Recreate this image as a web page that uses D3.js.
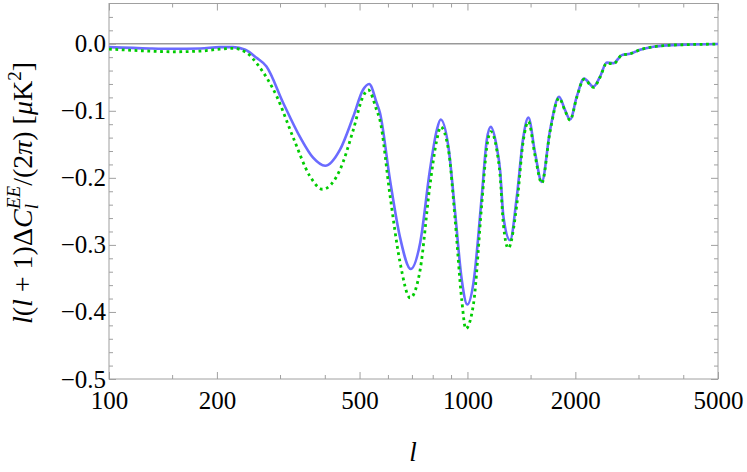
<!DOCTYPE html>
<html>
<head>
<meta charset="utf-8">
<script src="https://cdn.jsdelivr.net/npm/d3@7"></script>
<style>
  body { margin: 0; background: #fff; }
  text { font-family: "Liberation Serif", "DejaVu Serif", serif; }
</style>
</head>
<body>
<div id="graphic"></div>
<script>
// multipole values and Delta C_l^EE curves
const ellBlue = [100, 130, 150, 180, 204, 222, 240, 258, 275, 306, 341, 371, 401, 441, 480, 511, 532, 558, 570, 608, 648, 695, 738, 786, 821, 842, 885, 924, 964, 999, 1039, 1096, 1132, 1161, 1207, 1233, 1260, 1315, 1373, 1432, 1479, 1544, 1612, 1700, 1801, 1872, 1934, 2018, 2115, 2246, 2344, 2447, 2553, 2696, 2843, 3031, 3302, 3598, 3995, 5000];
const valBlue = [-0.005, -0.007, -0.0075, -0.007, -0.005, -0.005, -0.009, -0.021, -0.034, -0.088, -0.139, -0.170, -0.182, -0.158, -0.109, -0.069, -0.060, -0.088, -0.103, -0.203, -0.288, -0.336, -0.297, -0.188, -0.129, -0.113, -0.154, -0.252, -0.352, -0.389, -0.357, -0.228, -0.144, -0.124, -0.154, -0.188, -0.258, -0.293, -0.228, -0.139, -0.110, -0.163, -0.206, -0.129, -0.079, -0.099, -0.113, -0.079, -0.052, -0.064, -0.049, -0.028, -0.029, -0.017, -0.015, -0.009, -0.0045, -0.0024, -0.0015, -0.0005];

const ellGreen = [100, 130, 150, 180, 204, 222, 243, 258, 294, 326, 364, 394, 441, 480, 511, 529, 558, 570, 608, 648, 692, 738, 786, 821, 842, 885, 924, 964, 989, 1039, 1096, 1132, 1161, 1207, 1233, 1260, 1300, 1373, 1432, 1479, 1544, 1612, 1700, 1801, 1872, 1934, 2018, 2115, 2246, 2344, 2447, 2553, 2696, 2843, 3031, 3302, 3598, 3995, 5000];
const valGreen = [-0.008, -0.011, -0.012, -0.011, -0.008, -0.007, -0.014, -0.029, -0.079, -0.139, -0.198, -0.217, -0.188, -0.129, -0.079, -0.069, -0.099, -0.114, -0.226, -0.325, -0.379, -0.337, -0.211, -0.144, -0.124, -0.158, -0.263, -0.382, -0.425, -0.389, -0.240, -0.155, -0.131, -0.158, -0.196, -0.270, -0.305, -0.240, -0.144, -0.116, -0.167, -0.208, -0.131, -0.081, -0.100, -0.114, -0.080, -0.053, -0.065, -0.050, -0.029, -0.030, -0.017, -0.015, -0.009, -0.0045, -0.0024, -0.0015, -0.0005];

const xMajor = [100, 200, 500, 1000, 2000, 5000];
const xMinor = [150, 300, 400, 600, 700, 800, 900, 1500, 3000, 4000];
const yMajor = [0.0, -0.1, -0.2, -0.3, -0.4, -0.5];
const yMinor = [0.04, 0.02, -0.02, -0.04, -0.06, -0.08, -0.12, -0.14, -0.16, -0.18, -0.22, -0.24, -0.26, -0.28, -0.32, -0.34, -0.36, -0.38, -0.42, -0.44, -0.46, -0.48];

const width = 747, height = 472;
const margin = {left: 109, right: 29, top: 3.5, bottom: 93};
const plotWidth = width - margin.left - margin.right;
const plotHeight = height - margin.top - margin.bottom;
const frameColor = "#a0a0a0";

const svg = d3.select("#graphic")
              .append("svg")
              .attr("width", width)
              .attr("height", height);
const plotSvg = svg.append("g")
                   .attr("transform", "translate(" + margin.left + "," + margin.top + ")");

const x = d3.scaleLog().domain([100, 5000]).range([0, plotWidth]);
const y = d3.scaleLinear().domain([-0.5, 0.06]).range([plotHeight, 0]);

// frame
plotSvg.append("rect")
       .attr("width", plotWidth)
       .attr("height", plotHeight)
       .attr("fill", "none")
       .attr("stroke", frameColor)
       .attr("stroke-width", 1);

function styleAxis(g) {
    g.select(".domain").remove();
    g.selectAll(".tick line").attr("stroke", frameColor);
    g.selectAll(".tick text").attr("fill", "#000").attr("font-size", 25)
     .attr("font-family", "'Liberation Serif', serif");
}

const fmtY = d => (d < 0 ? "\u2212" : "") + Math.abs(d).toFixed(1);

// bottom + top ticks
plotSvg.append("g").attr("transform", "translate(0," + plotHeight + ")")
       .call(d3.axisBottom(x).tickValues(xMinor).tickSize(-4).tickFormat("")).call(styleAxis);
plotSvg.append("g").attr("transform", "translate(0," + plotHeight + ")")
       .call(d3.axisBottom(x).tickValues(xMajor).tickSize(-7).tickPadding(12).tickFormat(d3.format("d"))).call(styleAxis);
plotSvg.append("g")
       .call(d3.axisTop(x).tickValues(xMinor).tickSize(-4).tickFormat("")).call(styleAxis);
plotSvg.append("g")
       .call(d3.axisTop(x).tickValues(xMajor).tickSize(-7).tickFormat("")).call(styleAxis);

// left + right ticks
plotSvg.append("g")
       .call(d3.axisLeft(y).tickValues(yMinor).tickSize(-4).tickFormat("")).call(styleAxis);
plotSvg.append("g")
       .call(d3.axisLeft(y).tickValues(yMajor).tickSize(-7).tickPadding(3).tickFormat(fmtY)).call(styleAxis);
plotSvg.append("g").attr("transform", "translate(" + plotWidth + ",0)")
       .call(d3.axisRight(y).tickValues(yMinor).tickSize(-4).tickFormat("")).call(styleAxis);
plotSvg.append("g").attr("transform", "translate(" + plotWidth + ",0)")
       .call(d3.axisRight(y).tickValues(yMajor).tickSize(-7).tickFormat("")).call(styleAxis);

// zero line
plotSvg.append("line")
       .attr("x1", 0).attr("x2", plotWidth)
       .attr("y1", y(0)).attr("y2", y(0))
       .attr("stroke", "#999")
       .attr("stroke-width", 1.6);

const line = d3.line()
               .curve(d3.curveMonotoneX)
               .x(d => x(d[0]))
               .y(d => y(d[1]));

plotSvg.append("clipPath").attr("id", "clip")
       .append("rect").attr("width", plotWidth).attr("height", plotHeight);

// blue solid curve
plotSvg.append("path")
       .datum(d3.zip(ellBlue, valBlue))
       .attr("clip-path", "url(#clip)")
       .attr("fill", "none")
       .attr("stroke", "#6b6bff")
       .attr("stroke-width", 2.6)
       .attr("stroke-linejoin", "round")
       .attr("d", line);

// green dotted curve
plotSvg.append("path")
       .datum(d3.zip(ellGreen, valGreen))
       .attr("clip-path", "url(#clip)")
       .attr("fill", "none")
       .attr("stroke", "#00cc00")
       .attr("stroke-width", 2.8)
       .attr("stroke-dasharray", "2.8,3.6")
       .attr("d", line);

// x label
svg.append("text")
   .attr("x", 413).attr("y", 461)
   .attr("text-anchor", "middle")
   .attr("font-size", 27)
   .attr("font-style", "italic")
   .text("l");

// y label
const yl = svg.append("text")
              .attr("transform", "translate(32,193) rotate(-90)")
              .attr("text-anchor", "middle")
              .attr("font-size", 28);
yl.append("tspan").attr("font-style", "italic").text("l");
yl.append("tspan").text("(");
yl.append("tspan").attr("font-style", "italic").text("l");
yl.append("tspan").text(" + 1)\u0394");
yl.append("tspan").attr("font-style", "italic").text("C");
yl.append("tspan").attr("font-style", "italic").attr("font-size", 19).attr("dy", 6).text("l");
yl.append("tspan").attr("font-style", "italic").attr("font-size", 19).attr("dx", -5).attr("dy", -18).text("EE");
yl.append("tspan").attr("dy", 12).text("/(2");
yl.append("tspan").attr("font-style", "italic").text("\u03c0");
yl.append("tspan").text(") [");
yl.append("tspan").attr("font-style", "italic").text("\u03bc");
yl.append("tspan").text("K");
yl.append("tspan").attr("font-size", 19).attr("dy", -11).text("2");
yl.append("tspan").attr("dy", 11).text("]");
</script>
</body>
</html>
